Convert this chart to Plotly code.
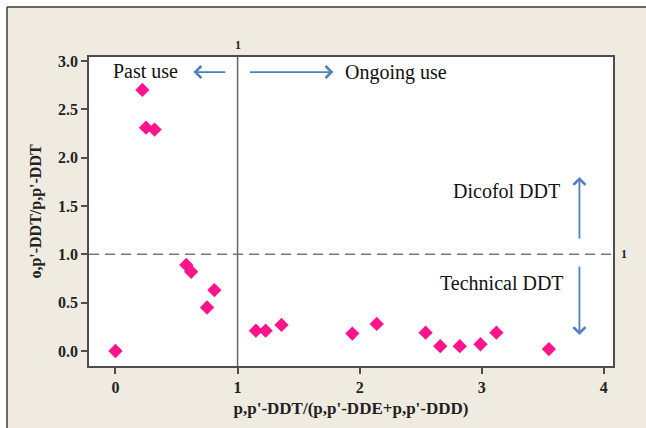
import plotly.graph_objects as go

# Data
x_ratio = [0.00, 0.22, 0.25, 0.32, 0.58, 0.62, 0.81, 0.75, 1.15, 1.23, 1.36,
           1.94, 2.14, 2.54, 2.66, 2.82, 2.99, 3.12, 3.55]
y_ratio = [0.00, 2.70, 2.31, 2.29, 0.89, 0.82, 0.63, 0.45, 0.21, 0.21, 0.27,
           0.18, 0.28, 0.19, 0.05, 0.05, 0.07, 0.19, 0.02]

x_ticks = [0, 1, 2, 3, 4]
y_ticks = [0.0, 0.5, 1.0, 1.5, 2.0, 2.5, 3.0]
x_threshold = 1
y_threshold = 1

BEIGE = "#EFEBE1"
PINK = "#FF148C"
ARROW = "#4F81BD"
AXIS = "#4D4D4D"
SERIF = "Liberation Serif, Times New Roman, serif"

fig = go.Figure()
fig.add_trace(go.Scatter(
    x=x_ratio, y=y_ratio, mode="markers",
    marker=dict(symbol="diamond", size=11, color=PINK, line=dict(width=0)),
    showlegend=False, hoverinfo="x+y",
))

shapes = [
    # white outer strips and frame lines (outside the beige panel)
    dict(type="rect", xref="paper", yref="paper", x0=-0.25, x1=1.2, y0=1.1618, y1=1.3,
         fillcolor="white", line=dict(width=0), layer="below"),
    dict(type="rect", xref="paper", yref="paper", x0=-0.25, x1=-0.1565, y0=-0.3, y1=1.3,
         fillcolor="white", line=dict(width=0), layer="below"),
    dict(type="line", xref="paper", yref="paper", x0=-0.1565, x1=-0.1565, y0=-0.3, y1=1.1618,
         line=dict(color="#3A3A3A", width=1.5), layer="below"),
    dict(type="line", xref="paper", yref="paper", x0=-0.1565, x1=1.2, y0=1.1618, y1=1.1618,
         line=dict(color="#3A3A3A", width=1.5), layer="below"),
    # reference lines
    dict(type="line", xref="x", yref="paper", x0=x_threshold, x1=x_threshold, y0=0, y1=1,
         line=dict(color="#666666", width=1.5)),
    dict(type="line", xref="paper", yref="y", x0=0, x1=1, y0=y_threshold, y1=y_threshold,
         line=dict(color="#777777", width=1.5, dash="10px,6px")),
]

txt = dict(family=SERIF, size=20, color="#111111")
annotations = [
    dict(x=x_threshold, y=1, xref="x", yref="paper", text="<b>1</b>", showarrow=False,
         yanchor="bottom", yshift=3, font=dict(family=SERIF, size=12, color="#222222")),
    dict(x=1, y=y_threshold, xref="paper", yref="y", text="<b>1</b>", showarrow=False,
         xanchor="left", xshift=6, font=dict(family=SERIF, size=12, color="#222222")),
    dict(x=0.242, y=2.896, xref="x", yref="y", text="Past use", showarrow=False, font=txt),
    dict(x=2.299, y=2.885, xref="x", yref="y", text="Ongoing use", showarrow=False, font=txt),
    dict(x=3.20, y=1.656, xref="x", yref="y", text="Dicofol DDT", showarrow=False, font=txt),
    dict(x=3.168, y=0.70, xref="x", yref="y", text="Technical DDT", showarrow=False, font=txt),
]
arrow_style = dict(xref="x", yref="y", axref="x", ayref="y", text="", showarrow=True,
                   arrowhead=4, arrowsize=1.3, arrowwidth=1.8, arrowcolor=ARROW)
for (x0, y0, x1, y1) in [(0.911, 2.885, 0.638, 2.885), (1.089, 2.885, 1.785, 2.885),
                         (3.80, 1.147, 3.80, 1.80), (3.80, 0.888, 3.80, 0.165)]:
    annotations.append(dict(x=x1, y=y1, ax=x0, ay=y0, **arrow_style))

tickfont = dict(family=SERIF, size=16, color="#222222", weight="bold")
fig.update_layout(
    width=646, height=428,
    margin=dict(l=89, r=33, t=57, b=62),
    paper_bgcolor=BEIGE, plot_bgcolor="white",
    shapes=shapes, annotations=annotations,
    xaxis=dict(range=[-0.217, 4.075], tickvals=x_ticks, ticktext=[str(v) for v in x_ticks],
               ticks="outside", ticklen=6, tickcolor=AXIS, tickwidth=1.5,
               showline=True, mirror=True, linecolor=AXIS, linewidth=1.5,
               showgrid=False, zeroline=False, tickfont=tickfont,
               title=dict(text="p,p'-DDT/(p,p'-DDE+p,p'-DDD)", standoff=7,
                          font=dict(family=SERIF, size=17, color="#222222", weight="bold"))),
    yaxis=dict(range=[-0.155, 3.041], tickvals=y_ticks, tickformat=".1f",
               ticks="outside", ticklen=6, tickcolor=AXIS, tickwidth=1.5,
               showline=True, mirror=True, linecolor=AXIS, linewidth=1.5,
               showgrid=False, zeroline=False, tickfont=tickfont,
               title=dict(text="o,p'-DDT/p,p'-DDT", standoff=12,
                          font=dict(family=SERIF, size=16, color="#222222", weight="bold"))),
)

fig.write_html("out.html")
